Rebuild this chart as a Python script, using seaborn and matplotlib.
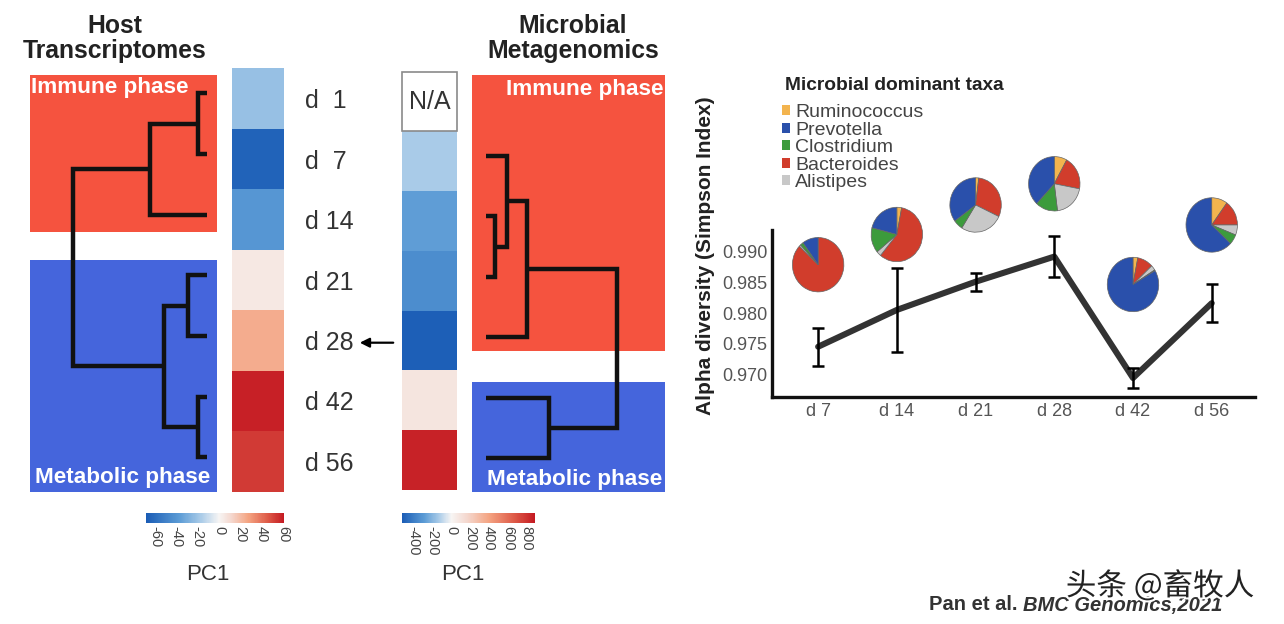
import numpy as np
import pandas as pd
import matplotlib.pyplot as plt
import seaborn as sns
from matplotlib.colors import LinearSegmentedColormap
from matplotlib.patches import Rectangle, Patch
import matplotlib.patheffects as pe

sns.set_style("white")
plt.rcParams["font.family"] = ["Liberation Sans", "DejaVu Sans"]
plt.rcParams["axes.unicode_minus"] = False

# ---- data ----
days_all = ["d  1", "d  7", "d 14", "d 21", "d 28", "d 42", "d 56"]
host_pc1 = [-22, -65, -40, 5, 25, 59, 53]
micro_pc1 = [np.nan, -130, -280, -340, -510, 90, 860]
host_range = (-68.6, 61)
micro_range = (-523, 888)
host_ticks = [-60, -40, -20, 0, 20, 40, 60]
micro_ticks = [-400, -200, 0, 200, 400, 600, 800]

# dendrograms: (child a, child b, height), new node ids follow the leaves
host_rows = [0, 1, 2, 3, 4, 5, 6]
host_merges = [(0, 1, 0.63), (7, 2, 4.25), (3, 4, 1.38), (5, 6, 0.63), (9, 10, 3.2), (8, 11, 10.0)]
micro_rows = [1, 2, 3, 4, 5, 6]
micro_merges = [(1, 2, 0.69), (0, 6, 1.58), (7, 3, 3.1), (4, 5, 4.82), (8, 9, 10.0)]

days = ["d 7", "d 14", "d 21", "d 28", "d 42", "d 56"]
alpha = [0.9745, 0.9805, 0.9851, 0.9892, 0.9694, 0.9816]
alpha_err = [0.0031, 0.0068, 0.0015, 0.0034, 0.0016, 0.0031]
pie_y = [0.98788, 0.99281, 0.99762, 1.00108, 0.98465, 0.99436]

taxa = ["Ruminococcus", "Prevotella", "Clostridium", "Bacteroides", "Alistipes"]
taxa_colors = ["#f3b44e", "#2a50ab", "#3c9b3c", "#d13d2c", "#c8c8c8"]
# fractions per day in taxa order
ruminococcus = [0, 3, 2, 8, 3, 10]
prevotella = [10, 21, 35, 38, 83.5, 63]
clostridium = [2, 15, 6, 14, 0.5, 6]
bacteroides = [87, 58, 30, 20, 10, 15]
alistipes = [1, 3, 27, 20, 3, 6]

W, H = 1284, 624
RED, BLUE = "#f5533f", "#4565dc"

fig = plt.figure(figsize=(W / 100, H / 100), dpi=100)


def px_axes(x0, y0, x1, y1):
    return fig.add_axes([x0 / W, 1 - y1 / H, (x1 - x0) / W, (y1 - y0) / H])


def pc1_cmap(vmin, vmax):
    stops = [(-1.0, "#1a5cb5"), (-0.55, "#5b9bd5"), (-0.25, "#a9cbe8"), (0.0, "#f7f5f4"),
             (0.2, "#f4d6cc"), (0.45, "#f4a482"), (0.75, "#de5b48"), (1.0, "#c41a22")]
    pts = []
    for s, c in stops:
        v = s * (-vmin) if s < 0 else s * vmax
        pts.append(((v - vmin) / (vmax - vmin), c))
    return LinearSegmentedColormap.from_list("pc1", pts)


def draw_dendro(ax, rows, merges):
    pos = {i: (0.0, r + 0.5) for i, r in enumerate(rows)}
    n = len(rows)
    for k, (a, b, h) in enumerate(merges):
        ha, ya = pos[a]
        hb, yb = pos[b]
        ax.plot([ha, h, h, hb], [ya, ya, yb, yb], color="#111111", lw=3.2,
                solid_joinstyle="miter", solid_capstyle="butt")
        pos[n + k] = (h, (ya + yb) / 2)


# background canvas in pixel units
bg = px_axes(0, 0, W, H)
bg.set_xlim(0, W)
bg.set_ylim(H, 0)
bg.axis("off")

bg.add_patch(Rectangle((30, 75), 186.7, 156.7, color=RED, lw=0))
bg.add_patch(Rectangle((30, 260), 186.7, 231.7, color=BLUE, lw=0))
bg.add_patch(Rectangle((471.5, 75), 193, 275.7, color=RED, lw=0))
bg.add_patch(Rectangle((471.5, 381.7), 193, 110, color=BLUE, lw=0))

title_kw = dict(ha="center", va="center", fontsize=17.8, fontweight="bold", color="#222222", linespacing=1.02)
bg.text(115, 38.5, "Host\nTranscriptomes", **title_kw)
bg.text(573, 38.5, "Microbial\nMetagenomics", **title_kw)

phase_kw = dict(fontsize=16.2, fontweight="bold", color="white", va="center")
bg.text(31, 88, "Immune phase", ha="left", **phase_kw)
bg.text(35, 477, "Metabolic phase", ha="left", **phase_kw)
bg.text(663, 90, "Immune phase", ha="right", **phase_kw)
bg.text(662, 480, "Metabolic phase", ha="right", **phase_kw)

bg.text(208, 574, "PC1", ha="center", va="center", fontsize=16, color="#333333")
bg.text(463, 574, "PC1", ha="center", va="center", fontsize=16, color="#333333")
bg.annotate("", xy=(357, 342.7), xytext=(396, 342.7),
            arrowprops=dict(arrowstyle="-|>", color="black", lw=1.6, mutation_scale=14))

# host dendrogram
ax_hd = px_axes(30, 63, 216.7, 487.7)
draw_dendro(ax_hd, host_rows, host_merges)
ax_hd.set_xlim(13.25, -0.75)
ax_hd.set_ylim(7, 0)
ax_hd.axis("off")

# microbial dendrogram
ax_md = px_axes(471.7, 65.4, 664, 488.2)
draw_dendro(ax_md, micro_rows, micro_merges)
ax_md.set_xlim(-1.09, 13.56)
ax_md.set_ylim(7, 0)
ax_md.axis("off")

# heatmaps
ax_hh = px_axes(232, 68.3, 284, 491.7)
cax_h = px_axes(146, 513, 284, 523)
host_df = pd.DataFrame({"PC1": host_pc1}, index=days_all)
sns.heatmap(host_df, ax=ax_hh, cmap=pc1_cmap(*host_range), vmin=host_range[0], vmax=host_range[1],
            cbar_ax=cax_h, cbar_kws={"orientation": "horizontal", "ticks": host_ticks},
            xticklabels=False, yticklabels=True)
ax_hh.yaxis.tick_right()
ax_hh.tick_params(axis="y", length=0, pad=15, labelsize=18, labelrotation=0, labelcolor="#333333")
ax_hh.set_ylabel("")

ax_mh = px_axes(401.7, 71.7, 457, 490)
cax_m = px_axes(401.7, 513, 535, 523)
micro_df = pd.DataFrame({"PC1": micro_pc1}, index=days_all)
sns.heatmap(micro_df, ax=ax_mh, cmap=pc1_cmap(*micro_range), vmin=micro_range[0], vmax=micro_range[1],
            cbar_ax=cax_m, cbar_kws={"orientation": "horizontal", "ticks": micro_ticks},
            xticklabels=False, yticklabels=False)
ax_mh.set_ylabel("")
ax_mh.add_patch(Rectangle((0, 0), 1, 1, fill=False, edgecolor="#8a8a8a", lw=1.2, clip_on=False))
ax_mh.text(0.5, 0.5, "N/A", ha="center", va="center", fontsize=18, color="#333333")

for hax, cax in ((ax_hh, cax_h), (ax_mh, cax_m)):
    cb = hax.collections[0].colorbar
    if cb is not None:
        cb.outline.set_visible(False)
    cax.tick_params(axis="x", length=0, pad=2, labelsize=10.5, labelrotation=-90, labelcolor="#444444")

# alpha diversity line chart
ax = px_axes(771.7, 230, 1255, 397.3)
xs = np.arange(len(days))
sns.lineplot(x=xs, y=alpha, ax=ax, color="#333333", linewidth=4.4, zorder=2)
ax.errorbar(xs, alpha, yerr=alpha_err, fmt="none", ecolor="black", elinewidth=1.8,
            capsize=4, capthick=1.8, zorder=3)
ax.set_xlim(-0.59, 5.55)
ax.set_ylim(0.96625, 0.99354)
ax.set_xticks(xs, days)
ax.set_yticks([0.970, 0.975, 0.980, 0.985, 0.990])
ax.set_yticklabels([f"{v:.3f}" for v in [0.970, 0.975, 0.980, 0.985, 0.990]])
ax.tick_params(length=0, labelsize=13, labelcolor="#555555")
ax.tick_params(axis="y", pad=3)
ax.tick_params(axis="x", pad=4)
ax.set_facecolor("none")
for side in ("top", "right"):
    ax.spines[side].set_visible(False)
for side in ("left", "bottom"):
    ax.spines[side].set_linewidth(2.4)
    ax.spines[side].set_color("#111111")
ax.set_ylabel("Alpha diversity (Simpson Index)", fontsize=15, fontweight="bold", color="#222222")
ax.yaxis.set_label_coords(-0.118, 0.845)

pie_table = np.array([ruminococcus, prevotella, clostridium, bacteroides, alistipes]).T
clock_order = [0, 3, 4, 2, 1]  # clockwise from 12: Ruminococcus, Bacteroides, Alistipes, Clostridium, Prevotella
pw, ph = 0.673, 0.00914
for i, fr in enumerate(pie_table):
    pax = ax.inset_axes([xs[i] - pw / 2, pie_y[i] - ph / 2, pw, ph], transform=ax.transData)
    pax.pie([fr[j] for j in clock_order], colors=[taxa_colors[j] for j in clock_order],
            startangle=90, counterclock=False,
            wedgeprops=dict(linewidth=0.5, edgecolor="#666666"))
    pax.set_aspect("auto")
    pax.set_xlim(-1.03, 1.03)
    pax.set_ylim(-1.03, 1.03)

# taxa legend
fig.text(785 / W, 1 - 85 / H, "Microbial dominant taxa", fontsize=13.8, fontweight="bold",
         color="#222222", va="center")
handles = [Patch(facecolor=c, edgecolor="none") for c in taxa_colors]
fig.legend(handles, taxa, loc="upper left", bbox_to_anchor=(782 / W, 1 - 104 / H), frameon=False,
           fontsize=14, labelcolor="#444444", labelspacing=0.03, handlelength=0.42,
           handleheight=0.42, handletextpad=0.25, borderpad=0, borderaxespad=0)

# footer and watermark
t1 = fig.text(929 / W, 1 - 605 / H, "Pan et al.", fontsize=14.5, fontweight="bold", color="#333333", va="center")
fig.canvas.draw()
bb = t1.get_window_extent()
fig.text((bb.x1 + 5) / W, 1 - 605 / H, "BMC Genomics,2021", fontsize=14.5, fontweight="bold",
         style="italic", color="#333333", va="center")
fig.text(1160 / W, 1 - 586 / H, "头条 @畜牧人", family=["Noto Sans CJK SC", "DejaVu Sans"],
         fontsize=22, ha="center", va="center", color="#222222",
         path_effects=[pe.withStroke(linewidth=3, foreground="white")])

fig.savefig("out.png", dpi=100, facecolor="white")
